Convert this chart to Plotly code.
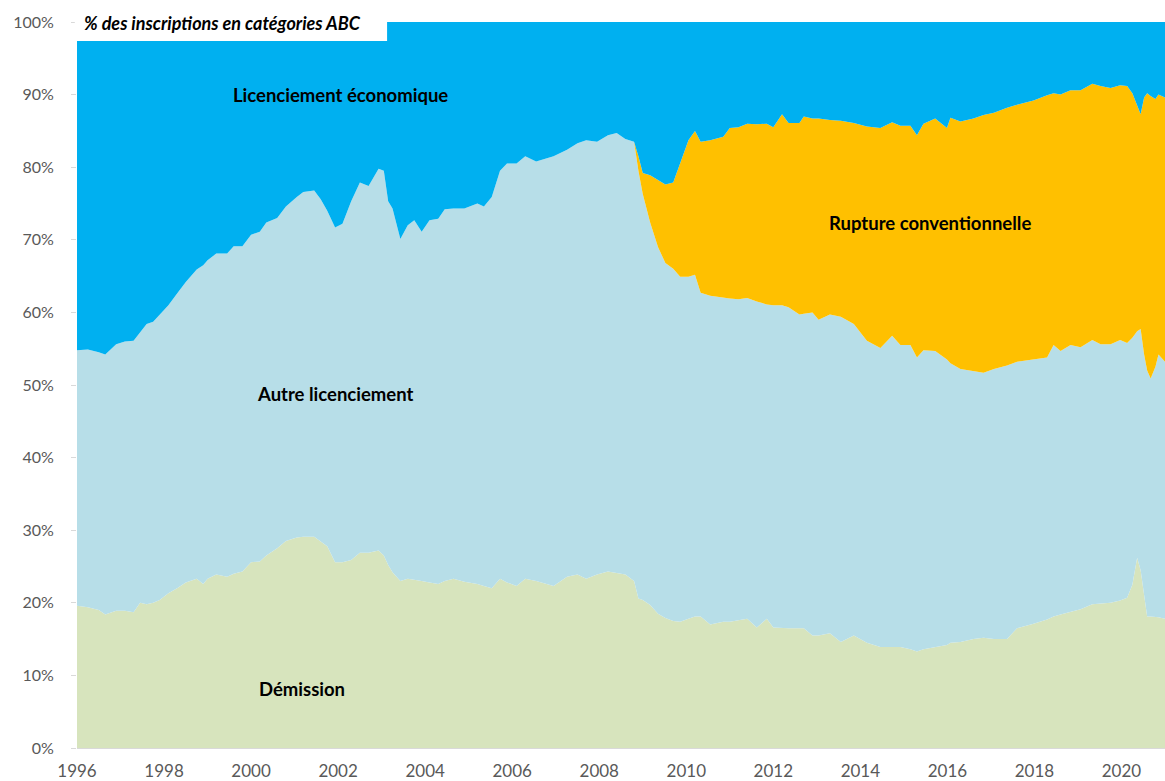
import plotly.graph_objects as go

# Dates (decimal years)
dates = [1996.00, 1996.25, 1996.50, 1996.65, 1996.90, 1997.10, 1997.30, 1997.45, 1997.60, 1997.75,
         1997.90, 1998.10, 1998.30, 1998.50, 1998.75, 1998.90, 1999.00, 1999.20, 1999.45, 1999.60,
         1999.80, 2000.00, 2000.20, 2000.35, 2000.60, 2000.80, 2001.05, 2001.20, 2001.45, 2001.60,
         2001.75, 2001.93, 2002.10, 2002.30, 2002.50, 2002.70, 2002.93, 2003.05, 2003.15, 2003.25,
         2003.43, 2003.60, 2003.75, 2003.92, 2004.10, 2004.30, 2004.45, 2004.65, 2004.90, 2005.20,
         2005.35, 2005.53, 2005.72, 2005.88, 2006.10, 2006.30, 2006.55, 2006.95, 2007.26, 2007.50,
         2007.70, 2007.95, 2008.20, 2008.40, 2008.60, 2008.80, 2008.90, 2009.00, 2009.17, 2009.35,
         2009.52, 2009.70, 2009.86, 2010.05, 2010.20, 2010.33, 2010.55, 2010.85, 2011.00, 2011.20,
         2011.40, 2011.62, 2011.85, 2012.00, 2012.20, 2012.35, 2012.60, 2012.70, 2012.90, 2013.04,
         2013.30, 2013.55, 2013.85, 2014.15, 2014.46, 2014.73, 2014.92, 2015.15, 2015.30, 2015.45,
         2015.72, 2015.99, 2016.07, 2016.30, 2016.60, 2016.83, 2017.07, 2017.37, 2017.60, 2017.98,
         2018.29, 2018.44, 2018.60, 2018.83, 2019.06, 2019.33, 2019.52, 2019.75, 2019.97, 2020.13,
         2020.25, 2020.36, 2020.44, 2020.52, 2020.59, 2020.67, 2020.78, 2020.85, 2021.00]

# Shares (% of registrations, categories ABC)
demission = [19.6, 19.4, 19.0, 18.4, 18.9, 18.9, 18.7, 20.0, 19.8, 20.0,
             20.4, 21.3, 22.0, 22.8, 23.3, 22.6, 23.3, 23.9, 23.6, 24.0,
             24.3, 25.6, 25.7, 26.5, 27.5, 28.5, 29.0, 29.1, 29.1, 28.5,
             27.8, 25.6, 25.6, 25.9, 26.9, 26.9, 27.2, 26.5, 25.2, 24.2,
             23.0, 23.3, 23.2, 23.0, 22.8, 22.6, 23.0, 23.3, 22.9, 22.6,
             22.3, 22.0, 23.3, 22.8, 22.3, 23.3, 23.0, 22.3, 23.6, 23.9,
             23.3, 23.9, 24.3, 24.1, 23.9, 23.0, 20.6, 20.4, 19.7, 18.5,
             17.9, 17.5, 17.4, 17.8, 18.1, 18.1, 17.0, 17.4, 17.4, 17.6,
             17.8, 16.6, 17.8, 16.6, 16.5, 16.5, 16.5, 16.5, 15.5, 15.5,
             15.8, 14.6, 15.5, 14.5, 13.9, 13.9, 13.9, 13.6, 13.3, 13.6,
             13.9, 14.2, 14.5, 14.6, 15.0, 15.2, 15.0, 15.0, 16.5, 17.1,
             17.7, 18.1, 18.4, 18.8, 19.1, 19.8, 19.9, 20.0, 20.3, 20.7,
             22.5, 26.2, 24.5, 21.0, 18.1, 18.1, 18.1, 18.0, 17.8]

autre_licenciement = [35.2, 35.5, 35.5, 35.8, 36.7, 37.1, 37.4, 37.3, 38.6, 38.7,
                      39.3, 39.7, 40.6, 41.4, 42.6, 43.9, 43.9, 44.2, 44.5, 45.1,
                      44.8, 45.1, 45.4, 45.9, 45.5, 46.1, 46.9, 47.5, 47.7, 47.1,
                      46.2, 46.1, 46.6, 49.4, 51.0, 50.5, 52.6, 53.0, 50.1, 50.1,
                      47.1, 48.7, 49.5, 48.1, 49.9, 50.3, 51.2, 51.0, 51.4, 52.4,
                      52.3, 53.9, 56.2, 57.7, 58.2, 58.2, 57.8, 59.2, 58.8, 59.4,
                      60.4, 59.6, 60.1, 60.6, 60.0, 60.5, 58.9, 55.9, 52.7, 50.5,
                      48.9, 48.5, 47.5, 47.1, 47.1, 44.6, 45.3, 44.6, 44.5, 44.2,
                      44.2, 44.9, 43.3, 44.4, 44.5, 44.2, 43.2, 43.3, 44.5, 43.5,
                      43.9, 44.8, 42.9, 41.6, 41.2, 42.9, 41.6, 41.9, 40.5, 41.2,
                      40.8, 39.3, 38.5, 37.6, 36.9, 36.5, 37.2, 37.7, 36.7, 36.4,
                      36.1, 37.4, 36.3, 36.7, 36.1, 36.4, 35.7, 35.6, 35.9, 35.1,
                      34.0, 31.2, 33.2, 33.2, 33.9, 32.8, 34.4, 36.2, 35.4]

rupture_conventionnelle = [0.0] * 65 + [
                      0.0, 2.0, 2.9, 6.5, 9.2,
                      10.8, 11.9, 15.6, 18.8, 19.8, 20.8, 21.4, 22.2, 23.5, 23.7,
                      24.0, 24.4, 24.9, 24.5, 26.3, 25.4, 26.4, 27.2, 26.7, 27.7,
                      26.8, 27.0, 27.7, 29.5, 30.3, 29.4, 30.2, 30.2, 30.6, 31.2,
                      32.0, 31.9, 33.8, 34.1, 34.8, 35.5, 35.3, 35.5, 35.4, 35.7,
                      36.1, 34.7, 35.3, 35.1, 35.4, 35.3, 35.6, 35.3, 35.1, 35.4,
                      33.7, 31.1, 29.6, 35.4, 38.2, 38.9, 36.9, 35.8, 36.4]

licenciement_economique = [45.2, 45.1, 45.5, 45.8, 44.4, 44.0, 43.9, 42.7, 41.6, 41.3,
                           40.3, 39.0, 37.4, 35.8, 34.1, 33.5, 32.8, 31.9, 31.9, 30.9,
                           30.9, 29.3, 28.9, 27.6, 27.0, 25.4, 24.1, 23.4, 23.2, 24.4,
                           26.0, 28.3, 27.8, 24.7, 22.1, 22.6, 20.2, 20.5, 24.7, 25.7,
                           29.9, 28.0, 27.3, 28.9, 27.3, 27.1, 25.8, 25.7, 25.7, 25.0,
                           25.4, 24.1, 20.5, 19.5, 19.5, 18.5, 19.2, 18.5, 17.6, 16.7,
                           16.3, 16.5, 15.6, 15.3, 16.1, 16.5, 18.5, 20.8, 21.1, 21.8,
                           22.4, 22.1, 19.5, 16.3, 15.0, 16.5, 16.3, 15.8, 14.6, 14.5,
                           14.0, 14.1, 14.0, 14.5, 12.7, 13.9, 13.9, 13.0, 13.3, 13.3,
                           13.5, 13.6, 13.9, 14.4, 14.6, 13.8, 14.3, 14.3, 15.6, 14.0,
                           13.3, 14.6, 13.2, 13.7, 13.3, 12.8, 12.5, 11.8, 11.4, 10.8,
                           10.1, 9.8, 10.0, 9.4, 9.4, 8.5, 8.8, 9.1, 8.7, 8.8,
                           9.8, 11.5, 12.7, 10.4, 9.8, 10.2, 10.6, 10.0, 10.4]

series_names = ["Démission", "Autre licenciement", "Rupture conventionnelle", "Licenciement économique"]
series_values = [demission, autre_licenciement, rupture_conventionnelle, licenciement_economique]
colors = ["#D7E4BD", "#B7DEE8", "#FFC000", "#00B0F0"]

year_ticks = list(range(1996, 2021, 2))
pct_ticks = list(range(0, 101, 10))

FONT = "Lato, 'Open Sans', sans-serif"

fig = go.Figure()
for name, vals, col in zip(series_names, series_values, colors):
    fig.add_trace(go.Scatter(
        x=dates, y=vals, name=name, mode="lines",
        stackgroup="one", line=dict(width=0, color=col),
        fillcolor=col, hoverinfo="x+y+name",
    ))

labels = [
    ("Licenciement économique", 2002.05, 89.9),
    ("Rupture conventionnelle", 2015.61, 72.3),
    ("Autre licenciement", 2001.93, 48.8),
    ("Démission", 2001.17, 8.1),
]
for txt, lx, ly in labels:
    fig.add_annotation(x=lx, y=ly, xref="x", yref="y", text=f"<b>{txt}</b>",
                       showarrow=False, font=dict(family=FONT, size=18.5, color="#000000"))

# White caption box at the top-left of the plot area
fig.add_shape(type="rect", xref="paper", yref="paper", x0=-0.002, x1=0.285, y0=0.974, y1=1.05,
              fillcolor="white", line=dict(width=0), layer="above")
fig.add_annotation(x=0.005, y=0.9985, xref="paper", yref="paper", xanchor="left", yanchor="middle",
                   text="<b><i>% des inscriptions en catégories ABC</i></b>", showarrow=False,
                   font=dict(family=FONT, size=18, color="#000000"))

fig.update_layout(
    width=1165, height=781,
    margin=dict(l=77, r=0, t=22, b=33),
    paper_bgcolor="white", plot_bgcolor="white",
    showlegend=False,
    font=dict(family=FONT, color="#595959"),
    xaxis=dict(range=[1996, 2021], tickmode="array", tickvals=year_ticks,
               ticktext=[str(y) for y in year_ticks], showgrid=False, zeroline=False,
               showline=True, linecolor="#D9D9D9", linewidth=1, ticks="",
               tickfont=dict(family=FONT, size=17, color="#595959"), ticklabelstandoff=8),
    yaxis=dict(range=[0, 100], tickmode="array", tickvals=pct_ticks,
               ticktext=[f"{v}%" for v in pct_ticks], showgrid=False, zeroline=False,
               showline=False, ticks="outside", ticklen=5, tickcolor="#D9D9D9",
               tickfont=dict(family=FONT, size=16, color="#595959"), ticklabelstandoff=14),
)

fig.write_html("out.html")
